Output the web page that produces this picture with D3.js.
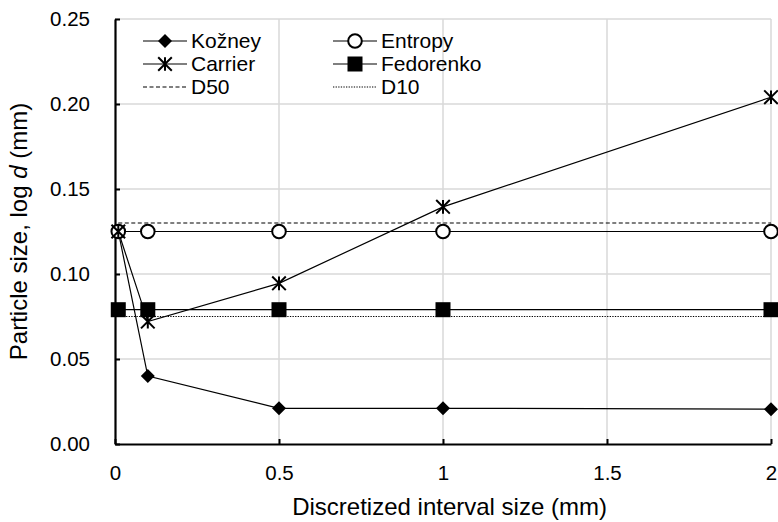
<!DOCTYPE html>
<html>
<head>
<meta charset="utf-8">
<script src="https://cdn.jsdelivr.net/npm/d3@7"></script>
<style>
body{margin:0;background:#fff;}
text{font-family:"Liberation Sans",Arial,sans-serif;fill:#000;}
</style>
</head>
<body>
<div id="chart"></div>
<script>
// data
var xs = [0.01, 0.1, 0.5, 1, 2];
var kozney = [0.125, 0.040, 0.021, 0.021, 0.0205];
var entropy = [0.125, 0.125, 0.125, 0.125, 0.125];
var carrier = [0.125, 0.072, 0.0945, 0.1395, 0.204];
var fedorenko = [0.079, 0.079, 0.079, 0.079, 0.079];
var d50 = [0.130, 0.130, 0.130, 0.130, 0.130];
var d10 = [0.075, 0.075, 0.075, 0.075, 0.075];
var yTicks = [0, 0.05, 0.10, 0.15, 0.20, 0.25];
var xTicks = [0, 0.5, 1, 1.5, 2];

var W = 778, H = 522;
var margin = {top:19,right:7,bottom:78,left:115},
  width = W - margin.left - margin.right,
  height = H - margin.top - margin.bottom;

var svg = d3.select("#chart").append("svg")
  .attr("width",W).attr("height",H)
  .append("g")
  .attr("transform",`translate(${margin.left},${margin.top})`);

var x = d3.scaleLinear().domain([0,2]).range([0,width]);
var y = d3.scaleLinear().domain([0,0.25]).range([height,0]);

// gridlines
svg.append("g").selectAll("line").data(yTicks.slice(1)).enter().append("line")
  .attr("x1",0).attr("x2",width)
  .attr("y1",d=>y(d)).attr("y2",d=>y(d))
  .attr("stroke","#d9d9d9").attr("stroke-width",1.5);
svg.append("g").selectAll("line").data(xTicks.slice(1)).enter().append("line")
  .attr("y1",0).attr("y2",height)
  .attr("x1",d=>x(d)).attr("x2",d=>x(d))
  .attr("stroke","#d9d9d9").attr("stroke-width",1.5);

// axes
var yAxis = svg.append("g")
  .call(d3.axisLeft(y).tickValues(yTicks).tickFormat(d3.format(".2f")).tickSizeInner(-5).tickSizeOuter(0).tickPadding(25));
var xAxis = svg.append("g")
  .attr("transform",`translate(0,${height})`)
  .call(d3.axisBottom(x).tickValues(xTicks).tickFormat(d=>d).tickSizeInner(-5).tickSizeOuter(0).tickPadding(21));
[xAxis,yAxis].forEach(function(a){
  a.select(".domain").attr("stroke","#000").attr("stroke-width",2.2);
  a.selectAll(".tick line").attr("stroke","#000").attr("stroke-width",2);
  a.selectAll(".tick text").style("font-size","20.5px").attr("font-family",null);
});

var line = d3.line().x((d,i)=>x(xs[i])).y(d=>y(d));

var series = [
  {name:"Kožney", vals:kozney, marker:"diamond", dash:null},
  {name:"Entropy", vals:entropy, marker:"circle", dash:null},
  {name:"Carrier", vals:carrier, marker:"star", dash:null},
  {name:"Fedorenko", vals:fedorenko, marker:"square", dash:null},
  {name:"D50", vals:d50, marker:null, dash:"4,2.5"},
  {name:"D10", vals:d10, marker:null, dash:"1.3,1.3"}
];

function drawMarker(g, type, cx, cy){
  if(type=="diamond"){
    g.append("path").attr("d",`M${cx},${cy-7}L${cx+7},${cy}L${cx},${cy+7}L${cx-7},${cy}Z`).attr("fill","#000");
  } else if(type=="circle"){
    g.append("circle").attr("cx",cx).attr("cy",cy).attr("r",6.8)
      .attr("fill","#fff").attr("stroke","#000").attr("stroke-width",2);
  } else if(type=="square"){
    g.append("rect").attr("x",cx-7.5).attr("y",cy-7.5).attr("width",15).attr("height",15).attr("fill","#000");
  } else if(type=="star"){
    var s = 6.8;
    g.append("path")
      .attr("d",`M${cx-s},${cy-s}L${cx+s},${cy+s}M${cx-s},${cy+s}L${cx+s},${cy-s}M${cx},${cy-s}L${cx},${cy+s}`)
      .attr("stroke","#000").attr("stroke-width",2).attr("fill","none");
  }
}

// lines first (D10, D50 underneath)
series.slice().reverse().forEach(function(s){
  svg.append("path").datum(s.vals)
    .attr("fill","none").attr("stroke","#000")
    .attr("stroke-width",1.2)
    .attr("stroke-dasharray",s.dash)
    .attr("d",line);
});
series.forEach(function(s){
  if(!s.marker) return;
  var g = svg.append("g");
  s.vals.forEach((v,i)=>drawMarker(g,s.marker,x(xs[i]),y(v)));
});

// legend
var legend = svg.append("g");
series.forEach(function(s,i){
  var col = i%2, row = Math.floor(i/2);
  var lx = 28 + col*190, ly = 22 + row*23;
  var g = legend.append("g").attr("transform",`translate(${lx},${ly})`);
  g.append("line").attr("x1",0).attr("x2",44).attr("y1",0).attr("y2",0)
    .attr("stroke","#000").attr("stroke-width",1.2).attr("stroke-dasharray",s.dash);
  if(s.marker) drawMarker(g,s.marker,22,0);
  g.append("text").attr("x",48).attr("y",0).attr("dy","0.35em")
    .style("font-size","21px").text(s.name);
});

// axis titles
svg.append("text")
  .attr("x",x(1.02)).attr("y",height+71)
  .attr("text-anchor","middle").style("font-size","24px")
  .text("Discretized interval size (mm)");
svg.append("text")
  .attr("transform",`translate(${-88},${y(0.125)}) rotate(-90)`)
  .attr("text-anchor","middle").style("font-size","24px")
  .html('Particle size, log <tspan font-style="italic">d</tspan> (mm)');
</script>
</body>
</html>
